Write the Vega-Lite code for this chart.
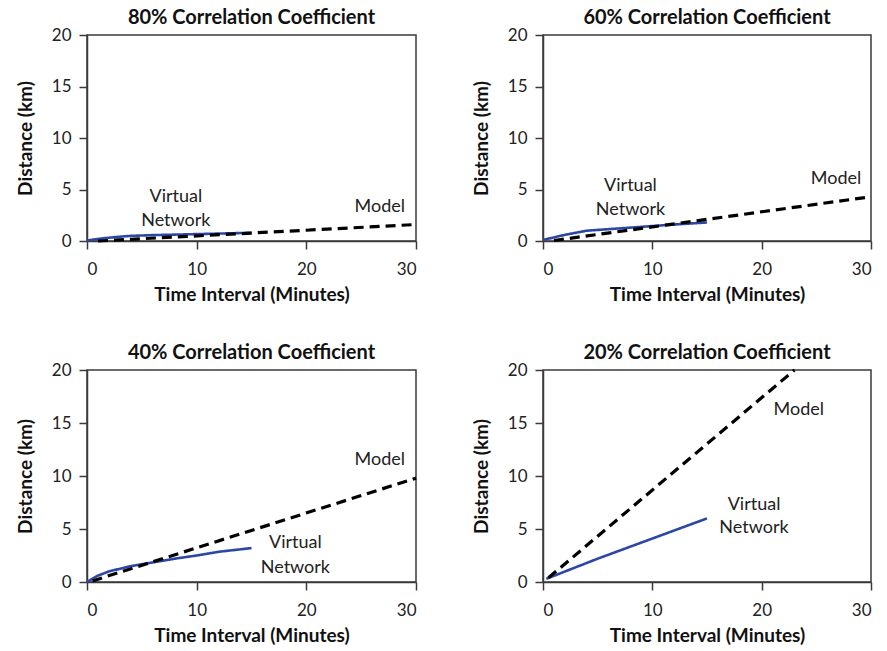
{
  "$schema": "https://vega.github.io/schema/vega-lite/v6.json",
  "background": "white",
  "padding": {"left": 15, "top": 7, "right": 0, "bottom": 0},
  "config": {
    "font": "Lato",
    "view": {"stroke": "#3a3a3a", "strokeWidth": 1.5},
    "title": {"fontSize": 20, "fontWeight": "bold", "color": "#111", "offset": 0, "dy": 6, "anchor": "middle"},
    "axis": {
      "grid": false,
      "labelFontSize": 17,
      "labelColor": "#222",
      "labelFontWeight": "normal",
      "titleFontSize": 19,
      "titleFontWeight": "bold",
      "titleColor": "#111",
      "domainColor": "#3a3a3a",
      "domainWidth": 1.5,
      "tickColor": "#3a3a3a",
      "tickWidth": 1.5,
      "tickSize": 8
    },
    "axisX": {"labelPadding": 12, "titlePadding": 8},
    "axisY": {"labelPadding": 8, "titlePadding": 16}
  },
  "datasets": {
    "curves": [
      {"panel": "80", "series": "Virtual Network", "t": 0, "d": 0.05},
      {"panel": "80", "series": "Virtual Network", "t": 1, "d": 0.2},
      {"panel": "80", "series": "Virtual Network", "t": 2, "d": 0.32},
      {"panel": "80", "series": "Virtual Network", "t": 3, "d": 0.42},
      {"panel": "80", "series": "Virtual Network", "t": 4, "d": 0.5},
      {"panel": "80", "series": "Virtual Network", "t": 6, "d": 0.57},
      {"panel": "80", "series": "Virtual Network", "t": 8, "d": 0.62},
      {"panel": "80", "series": "Virtual Network", "t": 10, "d": 0.67},
      {"panel": "80", "series": "Virtual Network", "t": 12, "d": 0.72},
      {"panel": "80", "series": "Virtual Network", "t": 15, "d": 0.8},
      {"panel": "80", "series": "Model", "t": 1, "d": 0.0},
      {"panel": "80", "series": "Model", "t": 30, "d": 1.6},
      {"panel": "60", "series": "Virtual Network", "t": 0, "d": 0.1},
      {"panel": "60", "series": "Virtual Network", "t": 1, "d": 0.35},
      {"panel": "60", "series": "Virtual Network", "t": 2, "d": 0.6},
      {"panel": "60", "series": "Virtual Network", "t": 4, "d": 1.0},
      {"panel": "60", "series": "Virtual Network", "t": 6, "d": 1.15},
      {"panel": "60", "series": "Virtual Network", "t": 8, "d": 1.3},
      {"panel": "60", "series": "Virtual Network", "t": 10, "d": 1.45},
      {"panel": "60", "series": "Virtual Network", "t": 12, "d": 1.6},
      {"panel": "60", "series": "Virtual Network", "t": 15, "d": 1.8},
      {"panel": "60", "series": "Model", "t": 1, "d": 0.05},
      {"panel": "60", "series": "Model", "t": 30, "d": 4.3},
      {"panel": "40", "series": "Virtual Network", "t": 0, "d": 0.0},
      {"panel": "40", "series": "Virtual Network", "t": 1, "d": 0.6},
      {"panel": "40", "series": "Virtual Network", "t": 2, "d": 1.0},
      {"panel": "40", "series": "Virtual Network", "t": 4, "d": 1.5},
      {"panel": "40", "series": "Virtual Network", "t": 6, "d": 1.85},
      {"panel": "40", "series": "Virtual Network", "t": 8, "d": 2.2},
      {"panel": "40", "series": "Virtual Network", "t": 10, "d": 2.5},
      {"panel": "40", "series": "Virtual Network", "t": 12, "d": 2.85},
      {"panel": "40", "series": "Virtual Network", "t": 15, "d": 3.2},
      {"panel": "40", "series": "Model", "t": 0.5, "d": 0.1},
      {"panel": "40", "series": "Model", "t": 30, "d": 9.8},
      {"panel": "20", "series": "Virtual Network", "t": 0.3, "d": 0.3},
      {"panel": "20", "series": "Virtual Network", "t": 5, "d": 2.2},
      {"panel": "20", "series": "Virtual Network", "t": 10, "d": 4.1},
      {"panel": "20", "series": "Virtual Network", "t": 15, "d": 6.0},
      {"panel": "20", "series": "Model", "t": 0.5, "d": 0.4},
      {"panel": "20", "series": "Model", "t": 23, "d": 20}
    ],
    "labels": [
      {"panel": "80", "t": 8.1, "d": 4.3, "label": "Virtual"},
      {"panel": "80", "t": 8.1, "d": 1.9, "label": "Network"},
      {"panel": "80", "t": 26.7, "d": 3.3, "label": "Model"},
      {"panel": "60", "t": 8.0, "d": 5.3, "label": "Virtual"},
      {"panel": "60", "t": 8.0, "d": 3.0, "label": "Network"},
      {"panel": "60", "t": 26.8, "d": 6.0, "label": "Model"},
      {"panel": "40", "t": 19.0, "d": 3.7, "label": "Virtual"},
      {"panel": "40", "t": 19.0, "d": 1.3, "label": "Network"},
      {"panel": "40", "t": 26.7, "d": 11.5, "label": "Model"},
      {"panel": "20", "t": 19.3, "d": 7.3, "label": "Virtual"},
      {"panel": "20", "t": 19.3, "d": 5.1, "label": "Network"},
      {"panel": "20", "t": 23.4, "d": 16.2, "label": "Model"}
    ]
  },
  "vconcat": [
    {
      "spacing": 47,
      "hconcat": [
        {
          "title": "80% Correlation Coefficient",
          "width": 329, "height": 206,
          "layer": [
            {
              "data": {"name": "curves"},
              "transform": [{"filter": "datum.panel === '80'"}],
              "mark": {"type": "line"},
              "encoding": {
                "x": {"field": "t", "type": "quantitative", "title": "Time Interval (Minutes)", "scale": {"domain": [0, 30], "nice": false}, "axis": {"values": [0, 10, 20, 30]}},
                "y": {"field": "d", "type": "quantitative", "title": "Distance (km)", "scale": {"domain": [0, 20], "nice": false}, "axis": {"values": [0, 5, 10, 15, 20]}},
                "color": {"field": "series", "type": "nominal", "scale": {"domain": ["Virtual Network", "Model"], "range": ["#2c47a4", "#000000"]}, "legend": null},
                "strokeDash": {"field": "series", "type": "nominal", "scale": {"domain": ["Virtual Network", "Model"], "range": [[1, 0], [10, 6]]}, "legend": null},
                "strokeWidth": {"field": "series", "type": "nominal", "scale": {"domain": ["Virtual Network", "Model"], "range": [2.6, 3.2]}, "legend": null}
              }
            },
            {
              "data": {"name": "labels"},
              "transform": [{"filter": "datum.panel === '80'"}],
              "mark": {"type": "text", "fontSize": 18, "color": "#222"},
              "encoding": {
                "x": {"field": "t", "type": "quantitative"},
                "y": {"field": "d", "type": "quantitative"},
                "text": {"field": "label"}
              }
            }
          ]
        },
        {
          "title": "60% Correlation Coefficient",
          "width": 328, "height": 206,
          "layer": [
            {
              "data": {"name": "curves"},
              "transform": [{"filter": "datum.panel === '60'"}],
              "mark": {"type": "line"},
              "encoding": {
                "x": {"field": "t", "type": "quantitative", "title": "Time Interval (Minutes)", "scale": {"domain": [0, 30], "nice": false}, "axis": {"values": [0, 10, 20, 30]}},
                "y": {"field": "d", "type": "quantitative", "title": "Distance (km)", "scale": {"domain": [0, 20], "nice": false}, "axis": {"values": [0, 5, 10, 15, 20]}},
                "color": {"field": "series", "type": "nominal", "scale": {"domain": ["Virtual Network", "Model"], "range": ["#2c47a4", "#000000"]}, "legend": null},
                "strokeDash": {"field": "series", "type": "nominal", "scale": {"domain": ["Virtual Network", "Model"], "range": [[1, 0], [10, 6]]}, "legend": null},
                "strokeWidth": {"field": "series", "type": "nominal", "scale": {"domain": ["Virtual Network", "Model"], "range": [2.6, 3.2]}, "legend": null}
              }
            },
            {
              "data": {"name": "labels"},
              "transform": [{"filter": "datum.panel === '60'"}],
              "mark": {"type": "text", "fontSize": 18, "color": "#222"},
              "encoding": {
                "x": {"field": "t", "type": "quantitative"},
                "y": {"field": "d", "type": "quantitative"},
                "text": {"field": "label"}
              }
            }
          ]
        }
      ]
    },
    {
      "spacing": 47,
      "hconcat": [
        {
          "title": "40% Correlation Coefficient",
          "width": 329, "height": 212,
          "layer": [
            {
              "data": {"name": "curves"},
              "transform": [{"filter": "datum.panel === '40'"}],
              "mark": {"type": "line"},
              "encoding": {
                "x": {"field": "t", "type": "quantitative", "title": "Time Interval (Minutes)", "scale": {"domain": [0, 30], "nice": false}, "axis": {"values": [0, 10, 20, 30]}},
                "y": {"field": "d", "type": "quantitative", "title": "Distance (km)", "scale": {"domain": [0, 20], "nice": false}, "axis": {"values": [0, 5, 10, 15, 20]}},
                "color": {"field": "series", "type": "nominal", "scale": {"domain": ["Virtual Network", "Model"], "range": ["#2c47a4", "#000000"]}, "legend": null},
                "strokeDash": {"field": "series", "type": "nominal", "scale": {"domain": ["Virtual Network", "Model"], "range": [[1, 0], [10, 6]]}, "legend": null},
                "strokeWidth": {"field": "series", "type": "nominal", "scale": {"domain": ["Virtual Network", "Model"], "range": [2.6, 3.2]}, "legend": null}
              }
            },
            {
              "data": {"name": "labels"},
              "transform": [{"filter": "datum.panel === '40'"}],
              "mark": {"type": "text", "fontSize": 18, "color": "#222"},
              "encoding": {
                "x": {"field": "t", "type": "quantitative"},
                "y": {"field": "d", "type": "quantitative"},
                "text": {"field": "label"}
              }
            }
          ]
        },
        {
          "title": "20% Correlation Coefficient",
          "width": 328, "height": 212,
          "layer": [
            {
              "data": {"name": "curves"},
              "transform": [{"filter": "datum.panel === '20'"}],
              "mark": {"type": "line"},
              "encoding": {
                "x": {"field": "t", "type": "quantitative", "title": "Time Interval (Minutes)", "scale": {"domain": [0, 30], "nice": false}, "axis": {"values": [0, 10, 20, 30]}},
                "y": {"field": "d", "type": "quantitative", "title": "Distance (km)", "scale": {"domain": [0, 20], "nice": false}, "axis": {"values": [0, 5, 10, 15, 20]}},
                "color": {"field": "series", "type": "nominal", "scale": {"domain": ["Virtual Network", "Model"], "range": ["#2c47a4", "#000000"]}, "legend": null},
                "strokeDash": {"field": "series", "type": "nominal", "scale": {"domain": ["Virtual Network", "Model"], "range": [[1, 0], [10, 6]]}, "legend": null},
                "strokeWidth": {"field": "series", "type": "nominal", "scale": {"domain": ["Virtual Network", "Model"], "range": [2.6, 3.2]}, "legend": null}
              }
            },
            {
              "data": {"name": "labels"},
              "transform": [{"filter": "datum.panel === '20'"}],
              "mark": {"type": "text", "fontSize": 18, "color": "#222"},
              "encoding": {
                "x": {"field": "t", "type": "quantitative"},
                "y": {"field": "d", "type": "quantitative"},
                "text": {"field": "label"}
              }
            }
          ]
        }
      ]
    }
  ],
  "spacing": 37
}
